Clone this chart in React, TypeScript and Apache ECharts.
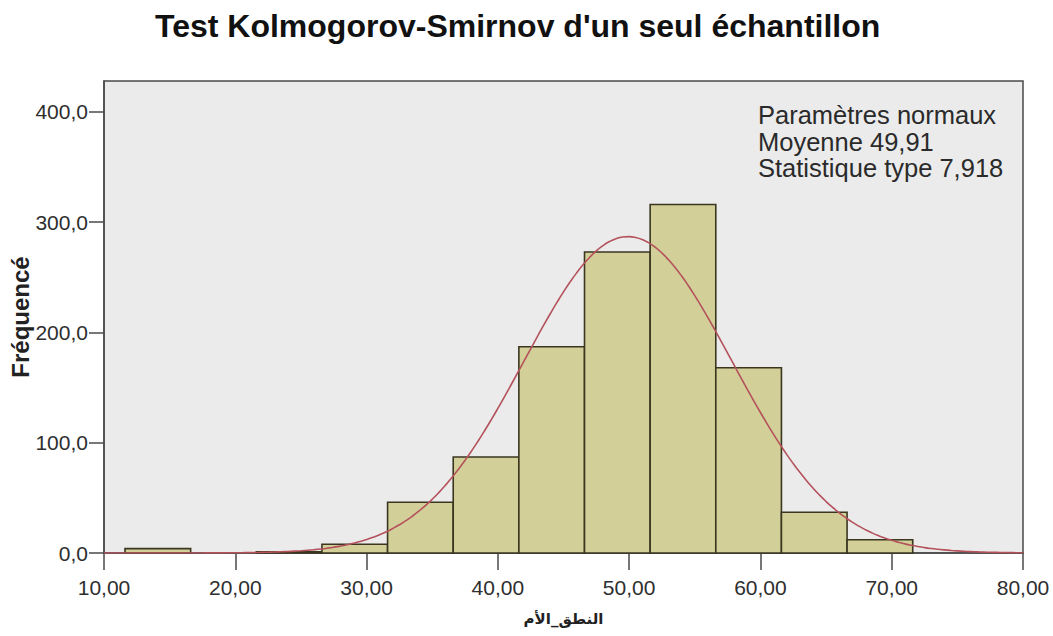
import React, { useEffect, useRef } from "react";
import * as echarts from "echarts";

// ---- data ----
const titleText = "Test Kolmogorov-Smirnov d'un seul échantillon";
const xAxisName = "النطق_الأم";
const yAxisName = "Fréquencé";
const xTicks = [10, 20, 30, 40, 50, 60, 70, 80];
const yTicks = [0, 100, 200, 300, 400];
const binStarts = [11.6, 16.6, 21.6, 26.6, 31.6, 36.6, 41.6, 46.6, 51.6, 56.6, 61.6, 66.6];
const binWidth = 5;
const counts = [4, 0, 1, 8, 46, 87, 187, 273, 316, 168, 37, 12];
const mean = 49.91;
const stdDev = 7.918;
const legendLines = ["Paramètres normaux", "Moyenne 49,91", "Statistique type 7,918"];

const fmt = (v: number, d: number) => v.toFixed(d).replace(".", ",");

export default function App() {
  const ref = useRef<HTMLDivElement>(null);
  useEffect(() => {
    if (!ref.current) return;
    const chart = echarts.init(ref.current, null, { renderer: "svg" });
    const total = counts.reduce((a, b) => a + b, 0);
    const bins = binStarts.map((s, i) => [s, s + binWidth, counts[i]]);
    // fitted normal curve from the stated parameters
    const curve: number[][] = [];
    for (let x = xTicks[0]; x <= xTicks[xTicks.length - 1] + 1e-9; x += 0.5) {
      const z = (x - mean) / stdDev;
      curve.push([x, (total * binWidth * Math.exp(-0.5 * z * z)) / (stdDev * Math.sqrt(2 * Math.PI))]);
    }
    const textColor = "#2e2e2e";
    const axisColor = "#4a4a4a";
    const font = "Liberation Sans, Arial, sans-serif";
    chart.setOption({
      animation: false,
      backgroundColor: "#ffffff",
      title: {
        text: titleText,
        left: 150,
        top: 5,
        textStyle: { fontFamily: font, fontSize: 32, fontWeight: "bold", color: "#111" },
      },
      grid: {
        left: 104,
        right: 30,
        top: 81,
        bottom: 83,
        containLabel: false,
        outerBoundsMode: "none",
        show: true,
        backgroundColor: "#ebebeb",
        borderColor: axisColor,
        borderWidth: 1.5,
      },
      xAxis: {
        type: "value",
        min: xTicks[0],
        max: xTicks[xTicks.length - 1],
        interval: 10,
        name: xAxisName,
        nameLocation: "middle",
        nameGap: 58,
        nameMoveOverlap: false,
        nameTextStyle: { fontFamily: "DejaVu Sans, sans-serif", fontSize: 15, fontWeight: "bold", color: "#222" },
        splitLine: { show: false },
        axisLine: { show: true, lineStyle: { color: axisColor, width: 1.5 } },
        axisTick: { show: true, length: 17, lineStyle: { color: axisColor, width: 1.5 }, customValues: xTicks },
        axisLabel: {
          customValues: xTicks,
          formatter: (v: number) => fmt(v, 2),
          fontFamily: font,
          fontSize: 21,
          color: textColor,
          margin: 24,
        },
      },
      yAxis: {
        type: "value",
        min: 0,
        max: 428,
        interval: 100,
        name: yAxisName,
        nameLocation: "middle",
        nameRotate: 90,
        nameGap: 72,
        nameMoveOverlap: false,
        nameTextStyle: { fontFamily: font, fontSize: 24, fontWeight: "bold", color: "#222" },
        splitLine: { show: false },
        axisLine: { show: true, lineStyle: { color: axisColor, width: 1.5 } },
        axisTick: { show: true, length: 15, lineStyle: { color: axisColor, width: 1.5 }, customValues: yTicks },
        axisLabel: {
          customValues: yTicks,
          formatter: (v: number) => fmt(v, 1),
          fontFamily: font,
          fontSize: 21,
          color: textColor,
          margin: 16,
        },
      },
      graphic: [
        {
          type: "text",
          left: 758,
          top: 102,
          z: 100,
          style: {
            text: legendLines.join("\n"),
            font: "25.5px 'Liberation Sans', Arial, sans-serif",
            lineHeight: 26.5,
            fill: "#2a2a2a",
          },
        },
      ],
      series: [
        {
          type: "custom",
          data: bins,
          encode: { x: [0, 1], y: 2 },
          z: 2,
          renderItem: (params: any, api: any) => {
            const x0 = api.value(0);
            const x1 = api.value(1);
            const v = api.value(2);
            if (!(v > 0)) return null;
            const p0 = api.coord([x0, v]);
            const p1 = api.coord([x1, 0]);
            return {
              type: "rect",
              shape: { x: p0[0], y: p0[1], width: p1[0] - p0[0], height: p1[1] - p0[1] },
              style: { fill: "#d3cf98", stroke: "#3a3620", lineWidth: 1.6 },
            };
          },
        },
        {
          type: "line",
          data: curve,
          smooth: true,
          showSymbol: false,
          z: 5,
          lineStyle: { color: "#b4525c", width: 1.6 },
        },
      ],
    });
    return () => chart.dispose();
  }, []);
  return <div ref={ref} style={{ position: "fixed", left: 0, top: 0, width: 1053, height: 636 }} />;
}
